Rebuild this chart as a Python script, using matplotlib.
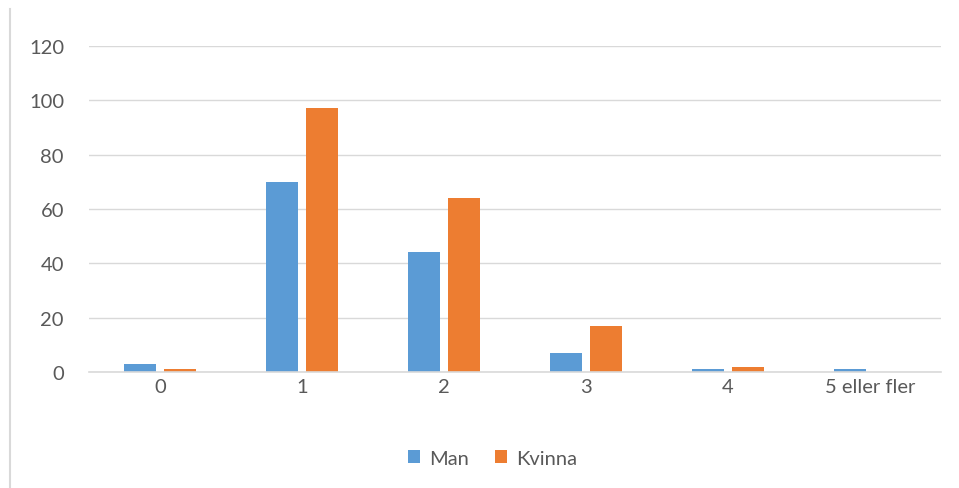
import matplotlib.pyplot as plt
from matplotlib.lines import Line2D
import numpy as np

plt.rcParams['font.family'] = ['Lato', 'DejaVu Sans']

kategorier = ["0", "1", "2", "3", "4", "5 eller fler"]
man = [3, 70, 44, 7, 1, 1]
kvinna = [1, 97, 64, 17, 2, 0]

blue = "#5B9BD5"
orange = "#ED7D31"
grey_text = "#595959"
grid = "#D9D9D9"

fig = plt.figure(figsize=(9.59, 4.89), dpi=100)
ax = fig.add_axes([0.0928, 0.2372, 0.8882, 0.6667])

x = np.arange(len(kategorier))
w = 0.225
ax.bar(x - 0.14, man, width=w, color=blue, label="Man", zorder=3)
ax.bar(x + 0.14, kvinna, width=w, color=orange, label="Kvinna", zorder=3)

ax.set_xlim(-0.5, len(kategorier) - 0.5)
ax.set_ylim(0, 120)
ax.set_yticks(range(0, 121, 20))
ax.set_xticks(x)
ax.set_xticklabels(kategorier)

ax.grid(axis="y", color=grid, linewidth=1, zorder=0)
for s in ["top", "right", "left"]:
    ax.spines[s].set_visible(False)
ax.spines["bottom"].set_color(grid)
ax.spines["bottom"].set_linewidth(1.2)
ax.spines["bottom"].set_zorder(4)
ax.tick_params(axis="both", length=0, labelsize=14.5, colors=grey_text)
ax.tick_params(axis="y", pad=18)
ax.tick_params(axis="x", pad=4)

ax.legend(loc="center", bbox_to_anchor=(0.474, -0.265), ncol=2, frameon=False,
          fontsize=14.5, labelcolor=grey_text, handlelength=0.6, handleheight=0.6,
          handletextpad=0.45, columnspacing=1.3)

# chart frame edge on the left
fig.add_artist(Line2D([10 / 959, 10 / 959], [0, 1 - 10 / 489],
                      transform=fig.transFigure, color=grid, linewidth=1.5))

fig.savefig("out.png", dpi=100, facecolor="white")
